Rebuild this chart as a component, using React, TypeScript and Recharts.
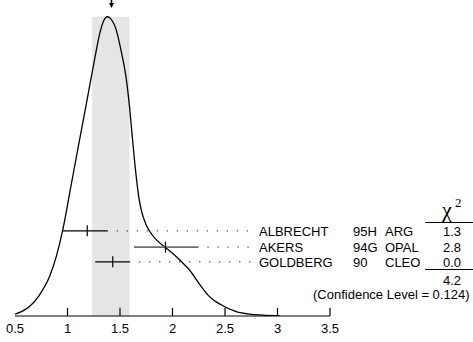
import { ComposedChart, Line, Scatter, ErrorBar, XAxis, YAxis, ReferenceArea, ReferenceLine, ReferenceDot, Customized } from 'recharts';

// ideogram curve
const curveX = [0.5, 0.562, 0.638, 0.733, 0.829, 0.895, 0.955, 1.035, 1.114, 1.178, 1.235, 1.276, 1.305, 1.343, 1.378, 1.41, 1.464, 1.505, 1.559, 1.59, 1.619, 1.654, 1.679, 1.705, 1.75, 1.8, 1.857, 1.94, 2.019, 2.095, 2.162, 2.257, 2.352, 2.467, 2.607, 2.733, 2.857, 3.02];
const curveY = [0.6, 1.4, 3.0, 6.7, 12.6, 19.2, 27.5, 41.9, 56.1, 67.5, 77.8, 85.2, 90.0, 94.2, 95.6, 95.0, 91.4, 85.6, 76.0, 67.1, 56.5, 44.7, 38.0, 33.5, 29.1, 26.2, 24.0, 21.7, 19.5, 17.0, 14.7, 10.2, 6.2, 3.5, 1.4, 0.6, 0.3, 0.05];

// measurements
const authors = ['ALBRECHT', 'AKERS', 'GOLDBERG'];
const years = ['95H', '94G', '90'];
const experiments = ['ARG', 'OPAL', 'CLEO'];
const values = [1.188, 1.933, 1.431];
const errMinus = [0.23, 0.30, 0.167];
const errPlus = [0.196, 0.315, 0.166];
const chi2 = ['1.3', '2.8', '0.0'];
const rowLevel = [27.2, 22.0, 17.3];
const barColors = ['#000', '#6e6e6e', '#000'];
const barWidths = [1.3, 1.8, 1.3];

const mean = 1.419;
const bandLow = 1.235;
const bandHigh = 1.59;
const chi2Total = '4.2';
const confidence = '(Confidence Level = 0.124)';
const xTicks = [0.5, 1, 1.5, 2, 2.5, 3, 3.5];
const innerTicks = [1, 1.5, 2, 2.5, 3, 3.5];

const curve = curveX.map((x, i) => ({ x, y: curveY[i] }));
const points = values.map((v, i) => ({ x: v, y: rowLevel[i], err: [errMinus[i], errPlus[i]] }));

const W = 473;
const H = 342;
const margin = { top: 3, right: 143, left: 15, bottom: 0 };
const font = '"Liberation Sans", Arial, Helvetica, sans-serif';
const serif = '"Liberation Serif", "DejaVu Serif", serif';

// same mapping the chart uses (plot 315 x 313 px)
const sy = (v: number) => 316 - (v / 100) * 313;

const CenterTick = (props: any) => (
  <line x1={props.cx} x2={props.cx} y1={props.cy - 5.5} y2={props.cy + 5.5} stroke="#000" strokeWidth={1.2} />
);

const Arrow = (props: any) => {
  const { cx, cy } = props;
  return (
    <g>
      <line x1={cx} x2={cx} y1={cy - 8} y2={cy - 4} stroke="#000" strokeWidth={1.5} />
      <path d={`M${cx - 2.5},${cy - 5} L${cx + 2.5},${cy - 5} L${cx},${cy} Z`} fill="#000" />
    </g>
  );
};

const Table = () => (
  <g fontFamily={font} fontSize={13} fill="#000">
    {authors.map((a, i) => (
      <g key={a}>
        <text x={259} y={sy(rowLevel[i]) + 5}>{a}</text>
        <text x={353} y={sy(rowLevel[i]) + 5}>{years[i]}</text>
        <text x={385} y={sy(rowLevel[i]) + 5}>{experiments[i]}</text>
        <text x={452} y={sy(rowLevel[i]) + 5} textAnchor="middle">{chi2[i]}</text>
      </g>
    ))}
    <text x={447} y={217} textAnchor="middle" fontFamily={serif} fontSize={22}>χ</text>
    <text x={455} y={207} fontFamily={serif} fontSize={13}>2</text>
    <line x1={425} x2={473} y1={222.5} y2={222.5} stroke="#000" strokeWidth={1} />
    <line x1={425} x2={473} y1={269.5} y2={269.5} stroke="#000" strokeWidth={1} />
    <text x={452} y={285} textAnchor="middle">{chi2Total}</text>
    <text x={313} y={299}>{confidence}</text>
  </g>
);

export default function App() {
  return (
    <div style={{ position: 'absolute', left: 0, top: 0, width: W, height: H, background: '#fff' }}>
      <ComposedChart width={W} height={H} margin={margin}>
        <ReferenceArea x1={bandLow} x2={bandHigh} y1={0} y2={95.6} fill="#e5e5e5" fillOpacity={1} stroke="none" />
        <XAxis
          type="number"
          dataKey="x"
          domain={[0.5, 3.5]}
          ticks={xTicks}
          height={26}
          tickSize={0}
          tickMargin={8}
          axisLine={{ stroke: '#000', strokeWidth: 1.2 }}
          tickLine={false}
          tick={{ fill: '#000', fontSize: 13, fontFamily: font }}
          allowDataOverflow
        />
        <YAxis type="number" domain={[0, 100]} width={0} tick={false} tickLine={false} axisLine={{ stroke: '#000', strokeWidth: 1.2 }} allowDataOverflow />
        {innerTicks.map((t) => (
          <ReferenceLine key={'t' + t} segment={[{ x: t, y: 0 }, { x: t, y: 2.6 }]} stroke="#000" strokeWidth={1.2} ifOverflow="visible" />
        ))}
        {points.map((p, i) => (
          <ReferenceLine
            key={'d' + i}
            segment={[
              { x: p.x + errPlus[i] + 0.085, y: p.y },
              { x: 2.78, y: p.y },
            ]}
            stroke="#444"
            strokeWidth={1.2}
            strokeDasharray="1.2 8.8"
          />
        ))}
        <Line data={curve} dataKey="y" type="monotone" stroke="#000" strokeWidth={1.3} dot={false} isAnimationActive={false} />
        {points.map((p, i) => (
          <Scatter key={'s' + i} data={[p]} dataKey="y" shape={CenterTick} isAnimationActive={false}>
            <ErrorBar dataKey="err" direction="x" width={0} stroke={barColors[i]} strokeWidth={barWidths[i]} isAnimationActive={false} />
          </Scatter>
        ))}
        <ReferenceDot x={mean} y={98.4} r={0} ifOverflow="visible" shape={Arrow} />
        <Customized component={Table} />
      </ComposedChart>
    </div>
  );
}
